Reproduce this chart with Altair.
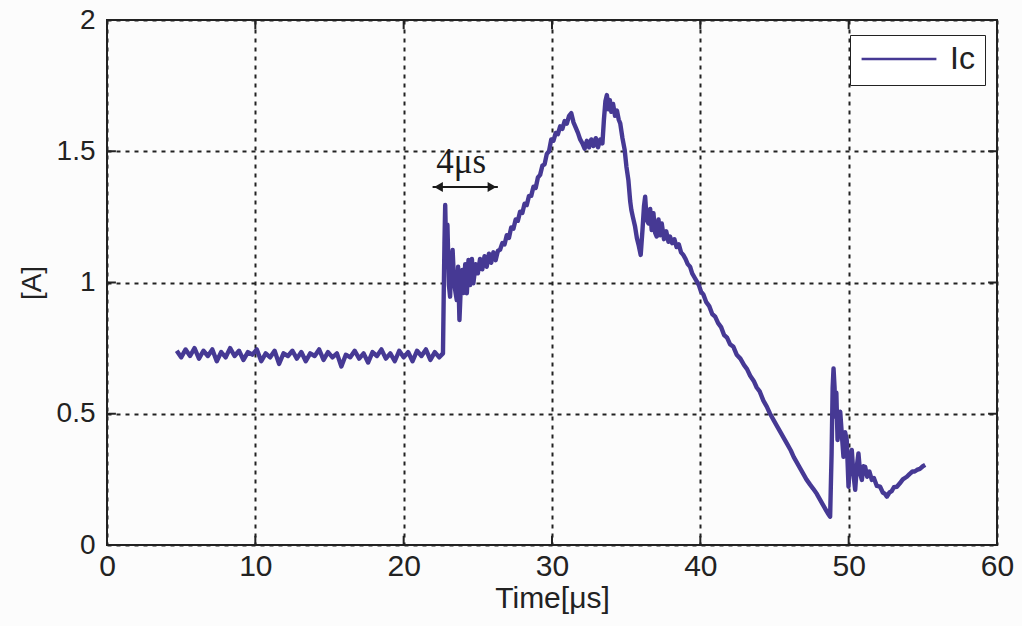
import altair as alt
import pandas as pd

# ---- data ----
time_us = [
    4.7, 5.0, 5.3, 5.6, 5.9, 6.2, 6.5, 6.8, 7.1, 7.4, 7.7, 8.0, 8.3, 8.6, 8.9, 9.2, 9.5, 9.8,
    10.1, 10.4, 10.7, 11.0, 11.3, 11.6, 11.9, 12.2, 12.5, 12.8, 13.1, 13.4, 13.7, 14.0, 14.3,
    14.6, 14.9, 15.2, 15.5, 15.8, 16.1, 16.4, 16.7, 17.0, 17.3, 17.6, 17.9, 18.2, 18.5, 18.8,
    19.1, 19.4, 19.7, 20.0, 20.3, 20.6, 20.9, 21.2, 21.5, 21.8, 22.1, 22.4, 22.65,
    22.70, 22.75, 22.8, 22.88, 22.95, 23.05, 23.13, 23.22, 23.3, 23.4, 23.5, 23.58, 23.67,
    23.76, 23.85, 23.95, 24.05, 24.15, 24.26, 24.37, 24.48, 24.6, 24.7, 24.85, 25.0, 25.15,
    25.3, 25.45, 25.6, 25.75, 25.9, 26.05, 26.2, 26.35,
    26.5, 26.65, 26.8, 26.95, 27.1, 27.25, 27.4, 27.55, 27.7, 27.85, 28.0, 28.15, 28.3, 28.45,
    28.6, 28.75, 28.9, 29.05, 29.2, 29.35, 29.5, 29.65, 29.8, 29.95, 30.1, 30.25, 30.4, 30.55,
    30.7, 30.85, 31.0, 31.15, 31.3, 31.45, 31.6, 31.75, 31.9, 32.05, 32.2, 32.35, 32.5, 32.65,
    32.8, 32.95, 33.1, 33.25, 33.4, 33.5, 33.6, 33.7, 33.8, 33.9, 34.0, 34.12, 34.25, 34.38,
    34.5, 34.6, 34.75, 34.9, 35.02, 35.15, 35.27, 35.35, 35.45, 35.6, 35.72, 35.85, 35.98,
    36.1, 36.2, 36.28, 36.38, 36.5, 36.62, 36.72, 36.84, 36.95, 37.06, 37.18, 37.3, 37.4,
    37.55, 37.7, 37.85, 37.96, 38.1, 38.25, 38.4, 38.55, 38.7, 38.85, 39.0, 39.15, 39.31,
    39.45, 39.6, 39.75, 39.9, 40.05, 40.2, 40.4, 40.6, 40.8, 41.0, 41.2, 41.4, 41.6, 41.8,
    42.0, 42.23, 42.45, 42.7, 42.95, 43.15, 43.36, 43.6, 43.8, 44.0, 44.25, 44.48, 44.7,
    44.95, 45.15, 45.4, 45.6, 45.85, 46.1, 46.3, 46.55, 46.75, 46.95, 47.15, 47.4, 47.6,
    47.85, 48.05, 48.25, 48.45, 48.6, 48.75,
    48.85, 48.92, 48.98, 49.05, 49.09, 49.17, 49.25, 49.34, 49.43, 49.54, 49.65, 49.76,
    49.87, 49.99, 50.1, 50.21, 50.32, 50.44, 50.55, 50.66, 50.78, 50.89, 51.0, 51.11, 51.25,
    51.4, 51.56, 51.7, 51.9, 52.12, 52.3, 52.45, 52.57, 52.75, 52.9, 53.05, 53.25, 53.45,
    53.65, 53.92, 54.1, 54.3, 54.45, 54.6, 54.8, 55.0, 55.16,
]
ic_a = [
    0.74, 0.715, 0.745, 0.72, 0.75, 0.71, 0.74, 0.72, 0.745, 0.70, 0.735, 0.715, 0.75, 0.72,
    0.74, 0.705, 0.735, 0.725, 0.745, 0.70, 0.73, 0.715, 0.74, 0.69, 0.73, 0.72, 0.74, 0.71,
    0.735, 0.70, 0.73, 0.72, 0.745, 0.705, 0.735, 0.715, 0.73, 0.68, 0.725, 0.715, 0.74, 0.71,
    0.73, 0.695, 0.735, 0.72, 0.745, 0.71, 0.73, 0.70, 0.74, 0.715, 0.735, 0.70, 0.74, 0.72,
    0.745, 0.705, 0.735, 0.715, 0.73,
    0.95, 1.15, 1.295, 1.08, 1.22, 0.99, 0.946, 1.08, 1.124, 1.0, 0.96, 0.933, 1.06,
    0.857, 0.98, 1.048, 0.96, 1.07, 0.959, 1.086, 0.99, 1.09, 0.997, 1.07, 1.035, 1.09,
    1.05, 1.10, 1.06, 1.11, 1.075, 1.115, 1.085, 1.12,
    1.125, 1.15, 1.145, 1.18, 1.17, 1.21, 1.205, 1.24, 1.235, 1.27, 1.265, 1.30, 1.295, 1.33,
    1.33, 1.365, 1.36, 1.40, 1.41, 1.445, 1.45, 1.49, 1.50, 1.545, 1.54, 1.57, 1.565, 1.595,
    1.585, 1.615, 1.605, 1.635, 1.645, 1.61, 1.59, 1.57, 1.545, 1.53, 1.51, 1.54, 1.515, 1.545,
    1.52, 1.55, 1.515, 1.545, 1.53, 1.62, 1.69, 1.714, 1.66, 1.695, 1.65, 1.68, 1.635, 1.655,
    1.62, 1.606, 1.55, 1.505, 1.44, 1.39, 1.31, 1.276, 1.25, 1.213, 1.17, 1.14, 1.105,
    1.20, 1.29, 1.327, 1.24, 1.225, 1.28, 1.20, 1.264, 1.19, 1.175, 1.24, 1.18, 1.225,
    1.165, 1.195, 1.155, 1.175, 1.15, 1.165, 1.135, 1.145, 1.115, 1.105, 1.09, 1.07, 1.06,
    1.035, 1.02, 1.005, 0.99, 0.965, 0.955, 0.925, 0.91, 0.88, 0.87, 0.845, 0.83, 0.80, 0.79,
    0.765, 0.755, 0.725, 0.71, 0.685, 0.67, 0.645, 0.625, 0.60, 0.585, 0.55, 0.527, 0.50,
    0.475, 0.455, 0.43, 0.41, 0.385, 0.36, 0.335, 0.31, 0.29, 0.27, 0.25, 0.23, 0.215,
    0.195, 0.175, 0.155, 0.135, 0.12, 0.108,
    0.35, 0.60, 0.673, 0.60, 0.489, 0.58, 0.40, 0.47, 0.508, 0.42, 0.336, 0.43,
    0.40, 0.222, 0.33, 0.362, 0.27, 0.21, 0.30, 0.349, 0.27, 0.248, 0.30, 0.298, 0.26,
    0.28, 0.248, 0.255, 0.225, 0.222, 0.20, 0.195, 0.184, 0.20, 0.205, 0.22, 0.222, 0.235,
    0.25, 0.26, 0.27, 0.28, 0.28, 0.286, 0.29, 0.30, 0.305,
]
x_ticks = [0, 10, 20, 30, 40, 50, 60]
y_ticks = [0, 0.5, 1, 1.5, 2]
ann_label = ["4μs"]
ann_text_t = [23.87]
ann_text_i = [1.46]
arrow_line_t = [21.95, 26.35]
arrow_head_t = [22.35, 25.95]
arrow_i = [1.364, 1.364]

TRACE = "#463994"
INK = "#222222"
AXF = "Liberation Sans"

df = pd.DataFrame({"t": time_us, "Ic": ic_a, "series": "Ic"})
xs = alt.Scale(domain=[0, 60], nice=False, zero=False)
ys = alt.Scale(domain=[0, 2], nice=False, zero=False)

line = alt.Chart(df).mark_line(strokeWidth=4.4, strokeJoin="round").encode(
    x=alt.X("t:Q", scale=xs, axis=alt.Axis(
        values=x_ticks, title="Time[μs]", format="d", grid=True,
        gridDash=[4, 5], gridColor=INK, gridWidth=2, domain=False, ticks=False,
        labelFont=AXF, labelFontSize=30, labelColor=INK, labelPadding=6,
        titleFont=AXF, titleFontSize=30, titleColor=INK, titleFontWeight="normal",
        titlePadding=2, labelFlush=False)),
    y=alt.Y("Ic:Q", scale=ys, axis=alt.Axis(
        values=y_ticks, title="[A]", format="~g", grid=True,
        gridDash=[4, 5], gridColor=INK, gridWidth=2, domain=False, ticks=False,
        labelFont=AXF, labelFontSize=28, labelColor=INK, labelPadding=12,
        titleFont=AXF, titleFontSize=28, titleColor=INK, titleFontWeight="normal",
        titlePadding=10, labelFlush=False)),
    color=alt.Color("series:N", scale=alt.Scale(range=[TRACE]), legend=alt.Legend(
        title=None, orient="none", legendX=743, legendY=15, strokeColor=INK,
        fillColor="white", padding=10, symbolSize=5600, symbolStrokeWidth=2.5,
        labelFont=AXF, labelFontSize=32, labelColor=INK, labelOffset=12,
        symbolType="stroke", clipHeight=28)),
)

tk = pd.DataFrame({"x": x_ticks})
tky = pd.DataFrame({"y": y_ticks})
xt_bot = alt.Chart(tk).mark_rule(color=INK, strokeWidth=2).encode(
    x=alt.X("x:Q", scale=xs), y=alt.datum(0), y2=alt.datum(0.035))
xt_top = alt.Chart(tk).mark_rule(color=INK, strokeWidth=2).encode(
    x=alt.X("x:Q", scale=xs), y=alt.datum(2), y2=alt.datum(1.965))
yt_l = alt.Chart(tky).mark_rule(color=INK, strokeWidth=2).encode(
    y=alt.Y("y:Q", scale=ys), x=alt.datum(0), x2=alt.datum(0.6))
yt_r = alt.Chart(tky).mark_rule(color=INK, strokeWidth=2).encode(
    y=alt.Y("y:Q", scale=ys), x=alt.datum(60), x2=alt.datum(59.4))

ann = pd.DataFrame({"t": ann_text_t, "i": ann_text_i, "label": ann_label})
txt = alt.Chart(ann).mark_text(font="Liberation Serif", fontSize=35, color="#1a1a1a",
                               baseline="middle", align="center").encode(
    x=alt.X("t:Q", scale=xs), y=alt.Y("i:Q", scale=ys), text="label:N")

arr_l = pd.DataFrame({"t": arrow_line_t, "i": arrow_i})
arr_h = pd.DataFrame({"t": arrow_head_t, "i": arrow_i,
                      "shape": ["triangle-left", "triangle-right"]})
arr_line = alt.Chart(arr_l).mark_line(color="#1a1a1a", strokeWidth=2).encode(
    x=alt.X("t:Q", scale=xs), y=alt.Y("i:Q", scale=ys))
arr_head = alt.Chart(arr_h).mark_point(filled=True, size=100, color="#1a1a1a", opacity=1).encode(
    x=alt.X("t:Q", scale=xs), y=alt.Y("i:Q", scale=ys),
    shape=alt.Shape("shape:N", scale=None, legend=None))

chart = alt.layer(xt_bot, xt_top, yt_l, yt_r, arr_line, arr_head, txt, line).properties(
    width=890, height=525,
    autosize=alt.AutoSizeParams(type="none"),
    padding={"left": 107, "top": 20, "right": 25, "bottom": 81},
    background="#fcfcfc",
).configure_view(stroke=INK, strokeWidth=2)

chart.save("out.html", embed_options={"renderer": "svg", "actions": False})
